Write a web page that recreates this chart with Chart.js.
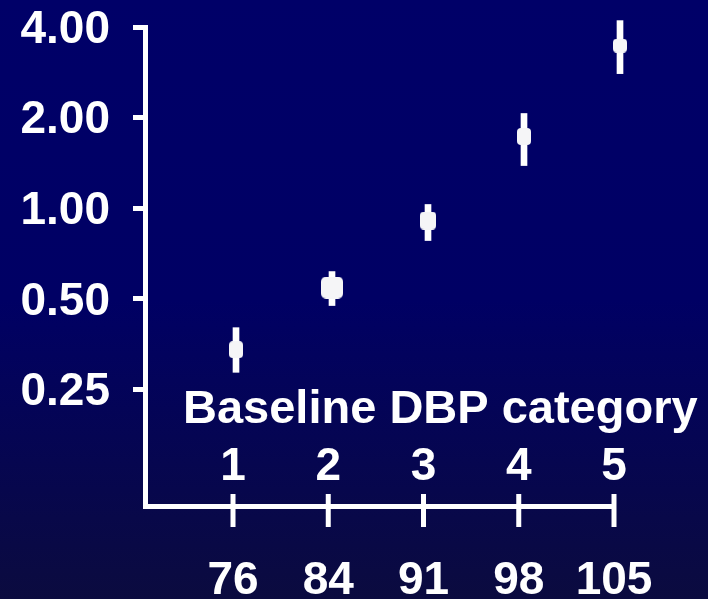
<!DOCTYPE html>
<html>
<head>
<meta charset="utf-8">
<script src="https://cdn.jsdelivr.net/npm/chart.js@4.4.0/dist/chart.umd.min.js"></script>
<style>
  html, body { margin: 0; padding: 0; }
  body {
    width: 708px; height: 599px; overflow: hidden;
    background: linear-gradient(#000068 0%, #000064 50%, #0b0b3f 100%);
  }
</style>
</head>
<body>
<canvas id="chart" width="708" height="599"></canvas>
<script>
// Dữ liệu
const categories = [1, 2, 3, 4, 5];
const dbpLabels = ['76', '84', '91', '98', '105'];
const ratio = [0.339, 0.545, 0.910, 1.731, 3.47];
const lower = [0.285, 0.475, 0.781, 1.386, 2.80];
const upper = [0.401, 0.616, 1.029, 2.064, 4.20];
const yTicks = [0.25, 0.5, 1, 2, 4];
const axisTitle = 'Baseline DBP category';

const FONT = "'Liberation Sans', Arial, sans-serif";

// Marker hình chữ nhật bo góc (vẽ sẵn ra canvas nhỏ)
function marker(w, h, r) {
    const c = document.createElement('canvas');
    c.width = w;
    c.height = h;
    const g = c.getContext('2d');
    g.fillStyle = '#f5f5f7';
    g.beginPath();
    g.roundRect(0, 0, w, h, r);
    g.fill();
    return c;
}
const markerStyles = [marker(14, 17, 4), marker(22, 22, 5), marker(16, 18, 4), marker(14, 17, 4), marker(14, 14, 4)];

// Vạch chia trục x cắt ngang trục, số nhóm và tiêu đề phía trên trục
const axisDecor = {
    id: 'axisDecor',
    afterDraw(chart) {
        const ctx = chart.ctx;
        const sx = chart.scales.x;
        const bottom = chart.chartArea.bottom;
        ctx.save();
        ctx.strokeStyle = '#ffffff';
        ctx.lineWidth = 5;
        ctx.fillStyle = '#ffffff';
        ctx.font = 'bold 46px ' + FONT;
        ctx.textAlign = 'center';
        ctx.textBaseline = 'alphabetic';
        categories.forEach(c => {
            const px = sx.getPixelForValue(c);
            ctx.beginPath();
            ctx.moveTo(px, bottom - 12);
            ctx.lineTo(px, bottom + 21);
            ctx.stroke();
            ctx.fillText(String(c), px, bottom - 26);
        });
        ctx.font = 'bold 47px ' + FONT;
        ctx.textAlign = 'left';
        ctx.fillText(axisTitle, chart.chartArea.left + 38, bottom - 83);
        ctx.restore();
    }
};

const ctx = document.getElementById('chart').getContext('2d');
new Chart(ctx, {
    type: 'bar',
    data: {
        datasets: [
            {
                type: 'line',
                data: categories.map((c, i) => ({ x: c, y: ratio[i] })),
                xAxisID: 'xp',
                showLine: false,
                pointStyle: markerStyles,
                pointRadius: 10,
                pointHoverRadius: 10,
                clip: false,
                order: 0
            },
            {
                type: 'bar',
                data: categories.map((c, i) => ({ x: c, y: [lower[i], upper[i]] })),
                xAxisID: 'xp',
                backgroundColor: '#ffffff',
                borderWidth: 0,
                barThickness: 6,
                clip: false,
                order: 1
            }
        ]
    },
    options: {
        responsive: false,
        animation: false,
        devicePixelRatio: 1,
        layout: {
            padding: { top: 27, right: 94, left: 0, bottom: 0 }
        },
        plugins: {
            legend: { display: false },
            tooltip: { enabled: false }
        },
        scales: {
            x: {
                type: 'linear',
                position: 'bottom',
                offset: false,
                min: 0.076,
                max: 5,
                afterBuildTicks: s => { s.ticks = categories.map(v => ({ value: v })); },
                afterFit: s => {
                    s.height = 93;
                    s.paddingLeft = 0;
                    s.paddingRight = 0;
                },
                grid: { display: false, offset: false },
                border: { color: '#ffffff', width: 5 },
                ticks: {
                    color: '#ffffff',
                    padding: 40,
                    maxRotation: 0,
                    autoSkip: false,
                    font: { size: 46, weight: 'bold', family: FONT },
                    callback: v => dbpLabels[categories.indexOf(v)]
                }
            },
            xp: {
                type: 'linear',
                display: false,
                offset: false,
                grid: { offset: false },
                min: 0.052,
                max: 4.9375
            },
            y: {
                type: 'logarithmic',
                min: 0.1025,
                max: 4,
                afterBuildTicks: s => { s.ticks = yTicks.map(v => ({ value: v })); },
                afterFit: s => {
                    s.width = 145;
                    s.paddingTop = 0;
                    s.paddingBottom = 0;
                },
                grid: {
                    drawOnChartArea: false,
                    drawTicks: true,
                    tickLength: 12,
                    color: '#ffffff',
                    lineWidth: 5
                },
                border: { color: '#ffffff', width: 5 },
                ticks: {
                    color: '#ffffff',
                    padding: 23,
                    labelOffset: 3,
                    autoSkip: false,
                    font: { size: 46, weight: 'bold', family: FONT },
                    callback: v => Number(v).toFixed(2)
                }
            }
        }
    },
    plugins: [axisDecor]
});
</script>
</body>
</html>
